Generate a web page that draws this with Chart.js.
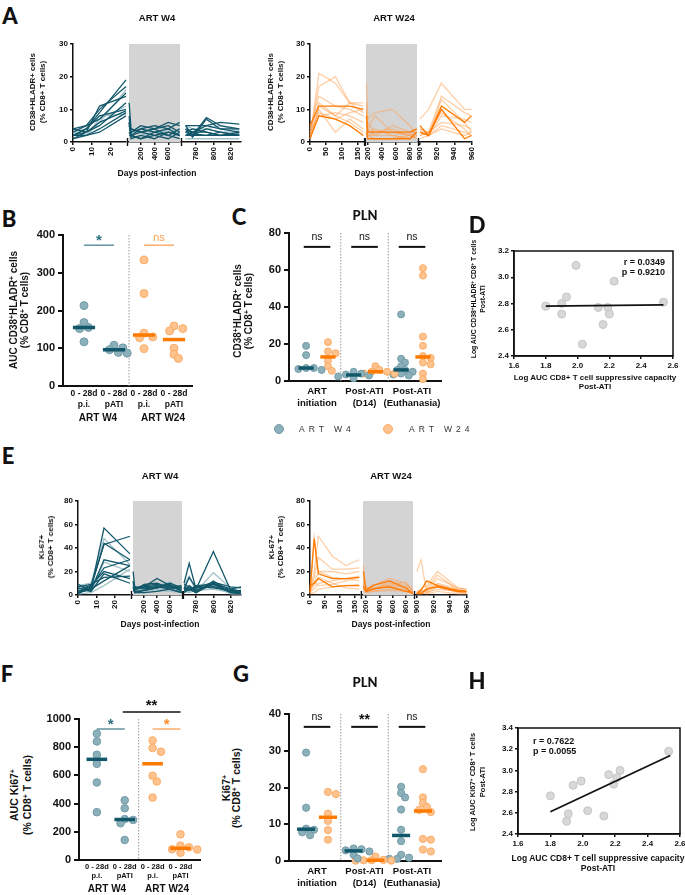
<!DOCTYPE html>
<html>
<head>
<meta charset="utf-8">
<script src="https://cdn.jsdelivr.net/npm/chart.js@4.4.1/dist/chart.umd.min.js"></script>
<style>
body { margin: 0; width: 685px; height: 895px; position: relative; overflow: hidden; background: #fff; font-family: 'Liberation Sans', Arial, sans-serif; color: #111; }
canvas { position: absolute; }
.t { position: absolute; transform: translate(-50%, -50%); text-align: center; white-space: nowrap; font-weight: bold; }
.r { transform: translate(-50%, -50%) rotate(-90deg); }
.let { font-family: Lato; font-weight: 900; font-size: 22px; }
sup { font-size: 0.68em; line-height: 0; vertical-align: 0.45em; }
.leg { position: absolute; font-size: 8.5px; letter-spacing: 4px; color: #333; white-space: nowrap; transform: translateY(-50%); }
.dot { position: absolute; width: 8px; height: 8px; border-radius: 50%; transform: translate(-50%, -50%); }
</style>
</head>
<body>
<script>
// ---- A : CD38+HLADR+ kinetics, ART W4 ----
var A_YTICKS = [0, 10, 20, 30];
var A4_D1 = [0, 7, 14, 28];
var A4_S1 = [[2,4,9,19],[3,5,10,17],[1,2,6,16],[4,5,7,15],[2,3,11,14],[1,3,5,12],[3,2,7,11],[2,4,8,10],[4,3,6,9.5],[1,2,4,9],[3,4,8,8.5],[2,2,3,8]];
var A4_D2 = [32, 60, 200, 400, 600, 765];
var A4_S2 = [[12,4,3,4,5,3],[8,2,4,5,4,2],[7,1,2,3,2,4],[5,3,5,4,6,5],[6,2,1,2,3,2],[4,4,3,2,1,3],[3,1,2,5,3,2],[5,3,4,3,4,6],[2,2,3,4,2,1],[6,1,2,1,3,2],[4,3,5,2,4,3],[3,2,1,3,2,4]];
var A4_D3 = [768, 776, 792, 808, 830];
var A4_S3 = [[5,2,7.5,5,4],[4,1.5,7,4,3],[3,3,4,3,3],[5,5,5,6,5.5],[2,2,2,3,2],[3,4,3,2,3],[1,1,1,1,1],[4,3,5,4,4],[2,3,3,2,2.5],[3,2,4,3,2],[5,4,4,5,3.5],[2,2.5,2,2,2]];
var A4_TONE = [1,1,0,1,1,1,0,1,1,1,0,1];
// ---- A : ART W24 ----
var A24_D1 = [0, 28, 80, 125, 168];
var A24_S1 = [[1,21,18,12,12],[2,17,20,12,9],[3,12,8,12,11],[1,10,3,7,4],[2,8,9,8,6],[4,14,11,10,8],[1,11,8,6,3],[3,9,7,9,10],[5,11,11,11,10],[1,8,7,5,2]];
var A24_D2 = [180, 200, 300, 550, 800, 895];
var A24_S2 = [[18,7,9,10,5,2],[12,4,8,3,2,4],[9,6,3,4,2,1],[6,2,2,5,3,3],[8,3,4,2,1,2],[10,2,1,1,2,3],[4,2,3,3,2,1],[5,4,2,2,1,2],[8,3,3,3,3,4],[3,1,1,1,1,3]];
var A24_D3 = [900, 910, 925, 952, 960];
var A24_S3 = [[7,10,18,10,10],[4,3,14,9,8],[3,2,13,6,3],[2,3,9,4,2],[3,2,5,3,2],[2,3,6,5,4],[1,2,4,2,3],[4,2,8,7,6],[3,2,11,6,8],[5,2,10,1,2]];
var A24_TONE = [0,0,0,0,0,0,0,0,1,1];
// x tick labels of the broken axes
var XT4 = [[0, 10, 20], [200, 400, 600], [780, 800, 820]];
var XT24 = [[0, 50, 100, 150], [200, 400, 600, 800], [900, 920, 940, 960]];

// ---- E : Ki-67 kinetics ----
var E_YTICKS = [0, 20, 40, 60, 80];
var E4_D1 = [0, 7, 14, 28];
var E4_S1 = [[2,5,57,35],[8,10,48,26],[5,8,43,50],[3,6,44,30],[9,4,30,25],[1,7,23,30],[4,3,28,20],[2,5,12,25],[6,3,18,10],[7,9,15,16],[1,2,8,22],[3,8,20,14]];
var E4_D2 = [32, 60, 200, 400, 600, 780];
var E4_S2 = [[20,5,7,14,8,3],[10,3,6,8,11,5],[8,6,8,9,7,8],[12,2,4,6,9,4],[6,7,5,7,5,2],[5,4,9,10,6,7],[9,3,3,5,4,3],[4,5,6,7,10,6],[7,2,2,3,5,2],[3,6,7,8,6,5],[11,4,5,4,3,2],[6,3,4,6,8,6]];
var E4_D3 = [766, 772, 780, 800, 820, 832];
var E4_S3 = [[10,27,5,37,4,2],[8,16,3,19,6,3],[5,15,6,11,7,6],[3,8,4,10,2,1],[6,4,8,9,5,7],[7,6,2,12,3,2],[4,3,5,8,1,1],[2,5,7,6,4,3],[9,7,3,9,2,2],[5,4,6,7,3,4],[3,2,4,5,2,1],[6,5,2,10,5,3]];
var E4_TONE = [1,0,1,1,1,1,0,1,1,1,0,1];
var E24_D1 = [0, 14, 28, 75, 120, 165];
var E24_S1 = [[5,49,20,15,14,16],[1,20,50,33,25,30],[8,15,32,22,22,23],[2,10,20,20,18,20],[3,5,10,12,14,12],[1,2,5,7,8,9],[6,8,15,10,6,5],[4,12,8,9,12,15],[2,48,18,14,14,15],[8,10,14,7,8,8]];
var E24_D2 = [160, 200, 300, 550, 800, 900];
var E24_S2 = [[25,5,8,14,10,4],[14,6,4,12,8,6],[10,3,5,9,11,3],[8,2,6,7,5,2],[6,4,3,5,4,1],[12,7,5,10,6,2],[5,2,3,4,3,1],[9,5,6,8,7,3],[20,4,8,12,6,1],[7,3,5,7,3,2]];
var E24_D3 = [900, 905, 912, 925, 950, 960];
var E24_S3 = [[20,30,2,5,3,2],[3,5,8,20,6,5],[1,2,6,17,4,4],[2,4,3,10,5,3],[1,1,2,7,2,2],[2,3,4,14,6,5],[1,2,1,3,1,1],[3,2,5,9,3,2],[1,4,12,8,4,3],[2,1,5,7,3,3]];
var E24_TONE = [0,0,0,0,0,0,0,0,1,1];

// ---- B : AUC CD38+HLADR+ ----
var B_YTICKS = [0, 100, 200, 300, 400];
var B_CATS = [['0 - 28d', 'p.i.'], ['0 - 28d', 'pATI'], ['0 - 28d', 'p.i.'], ['0 - 28d', 'pATI']];
var B_W4_PI = [213, 168, 155, 152, 117];
var B_W4_PATI = [108, 101, 96, 89, 87];
var B_W24_PI = [334, 245, 140, 130, 128, 99];
var B_W24_PATI = [159, 152, 146, 100, 84, 73];
var B_SIG = ['*', 'ns'];

// ---- C : PLN CD38+HLADR+ ----
var C_YTICKS = [0, 20, 40, 60, 80];
var PLN_GROUPS = [['ART', 'initiation'], ['Post-ATI', '(D14)'], ['Post-ATI', '(Euthanasia)']];
var C_W4 = [[19, 14, 7, 7, 6.5, 6], [5, 4, 3.5, 3, 2.5, 1.5], [36, 12, 10, 8, 6, 6, 5, 4, 3.5, 3]];
var C_W24 = [[21, 16, 15, 11, 8, 5.5], [8, 6, 5, 5, 4, 4], [61, 57, 24, 19, 13.5, 12.5, 10, 9, 4, 1]];
var C_SIG = ['ns', 'ns', 'ns'];

// ---- D / H : correlations ----
var CORR_XTICKS = [1.6, 1.8, 2.0, 2.2, 2.4, 2.6];
var D_YTICKS = [2.4, 2.6, 2.8, 3.0, 3.2];
var D_X = [1.80, 1.90, 1.90, 1.93, 1.99, 2.03, 2.13, 2.16, 2.19, 2.20, 2.23, 2.54];
var D_Y = [2.78, 2.80, 2.72, 2.85, 3.09, 2.49, 2.77, 2.64, 2.77, 2.72, 2.97, 2.81];
var D_FIT_X = [1.80, 2.54];
var D_FIT_Y = [2.78, 2.79];
var H_YTICKS = [2.4, 2.6, 2.8, 3.0, 3.2, 3.4];
var H_X = [1.80, 1.90, 1.91, 1.94, 1.99, 2.03, 2.13, 2.16, 2.19, 2.21, 2.23, 2.53];
var H_Y = [2.76, 2.52, 2.59, 2.86, 2.90, 2.62, 2.57, 2.96, 2.87, 2.93, 3.00, 3.18];
var H_FIT_X = [1.80, 2.54];
var H_FIT_Y = [2.61, 3.14];

// ---- F : AUC Ki67+ ----
var F_YTICKS = [0, 200, 400, 600, 800, 1000];
var F_W4_PI = [896, 841, 746, 682, 550, 339];
var F_W4_PATI = [424, 367, 290, 284, 261, 142];
var F_W24_PI = [848, 794, 768, 597, 557, 443];
var F_W24_PATI = [182, 102, 90, 76, 74, 52];
var F_SIG = ['*', '*', '**'];

// ---- G : PLN Ki67+ ----
var G_YTICKS = [0, 10, 20, 30, 40];
var G_W4 = [[29.5, 14.5, 8.8, 8.5, 7.8, 7.0], [3.4, 3.2, 2.9, 2.6, 1.7, 0.7], [20.2, 18.5, 17.3, 14.0, 8.5, 5.4, 1.7, 0.9, 0.6, 0.6]];
var G_W24 = [[18.8, 18.2, 12.9, 10.9, 8.4, 5.8], [1.2, 0.3, 0.2, 0.2, 0.1, 0.1], [25, 17.3, 15.8, 14.7, 13.9, 13.3, 6.0, 5.8, 3.1, 2.6]];
var G_SIG = ['ns', '**', 'ns'];

var TEAL = '#12586a', TEAL_LT = '#a3c2ca', ORG = '#ff7a00', ORG_LT = 'rgba(255,160,80,0.5)';
var DOT_T = '#8cb0ba', DOT_T_E = '#739ba7', DOT_O = '#fec38e', DOT_O_E = '#fbac66';

Chart.defaults.font.family = "'Liberation Sans', Arial, sans-serif";
Chart.defaults.font.weight = 'bold';
Chart.defaults.color = '#111';
Chart.defaults.animation = false;
Chart.defaults.events = [];
Chart.defaults.plugins.legend.display = false;
Chart.defaults.plugins.tooltip.enabled = false;

function mkCanvas(box, pad) {
  var c = document.createElement('canvas');
  var w = box[2] - box[0] + pad[0] + pad[2], h = box[3] - box[1] + pad[1] + pad[3];
  c.width = w; c.height = h;
  c.style.left = (box[0] - pad[0]) + 'px'; c.style.top = (box[1] - pad[1]) + 'px';
  c.style.width = w + 'px'; c.style.height = h + 'px';
  document.body.appendChild(c);
  return c;
}

function axis(min, max, ticks, o) {
  return {
    type: 'linear', min: min, max: max, display: o.display !== false,
    afterBuildTicks: function (s) { s.ticks = ticks.map(function (v) { return { value: v }; }); },
    afterFit: o.display === false ? undefined : o.fit,
    border: { display: true, color: '#111', width: o.bw || 1.5 },
    grid: { display: true, drawOnChartArea: false, drawTicks: o.tl > 0, tickLength: o.tl || 0, color: '#111', lineWidth: o.bw || 1.5 },
    ticks: { font: { size: o.fs, weight: 'bold' }, color: '#111', padding: o.pad == null ? 2 : o.pad, minRotation: o.rot || 0, maxRotation: o.rot || 0, autoSkip: false, callback: o.cb || function (v) { return v; } }
  };
}

// one piece of a broken time axis
function segment(box, xr, xt, yr, yt, days, series, tone, dark, light, o) {
  var pad = [o.y ? 32 : 8, 8, 6, 30];
  var c = mkCanvas(box, pad);
  var ds = series.map(function (vals, i) {
    return { data: vals.map(function (v, j) { return { x: days[j], y: v }; }), showLine: true, borderColor: tone[i] ? dark : light, borderWidth: 1.3, pointRadius: 0, order: tone[i] ? 0 : 1, clip: false };
  });
  var deco = {
    id: 'deco',
    beforeDatasetsDraw: function (ch) {
      if (!o.shade) return;
      var a = ch.chartArea, ctx = ch.ctx;
      ctx.save(); ctx.fillStyle = '#d4d4d4'; ctx.fillRect(a.left, a.top, a.right - a.left, a.bottom - a.top); ctx.restore();
    },
    afterDraw: function (ch) {
      var a = ch.chartArea, ctx = ch.ctx;
      ctx.save(); ctx.strokeStyle = '#111'; ctx.lineWidth = 1.2;
      var xs = [];
      if (o.brkL) xs.push(a.left - 1.5);
      if (o.brkR) xs.push(a.right + 1.5);
      xs.forEach(function (x) { ctx.beginPath(); ctx.moveTo(x, a.bottom - 4); ctx.lineTo(x, a.bottom + 4); ctx.stroke(); });
      ctx.restore();
    }
  };
  new Chart(c, {
    type: 'scatter', data: { datasets: ds },
    options: {
      responsive: false,
      layout: { padding: { left: o.y ? 4 : 8, top: 8, right: 6, bottom: 0 } },
      scales: {
        x: axis(xr[0], xr[1], xt, { fs: 8, tl: 3, rot: 90, fit: function (s) { s.height = 30; } }),
        y: axis(yr[0], yr[1], yt, { display: !!o.y, fs: 8, tl: 3, fit: function (s) { s.width = 28; } })
      }
    },
    plugins: [deco]
  });
}

function median(a) {
  var s = a.slice().sort(function (p, q) { return p - q; }), n = s.length;
  return n % 2 ? s[(n - 1) / 2] : (s[n / 2 - 1] + s[n / 2]) / 2;
}

// simple beeswarm so overlapping dots sit side by side (partial overlap allowed)
function swarm(vals, cx, kx, ky, r) {
  var placed = [], gap = r * 1.5, step = r * 1.1;
  return vals.map(function (v) {
    for (var k = 0; k < 30; k++) {
      var off = (k % 2 ? 1 : -1) * Math.ceil(k / 2) * step, py = v * ky;
      var ok = placed.every(function (p) { return Math.pow(p[0] - off, 2) + Math.pow(p[1] - py, 2) >= gap * gap; });
      if (ok) { placed.push([off, py]); return { x: cx + off / kx, y: v }; }
    }
    return { x: cx, y: v };
  });
}

function marksPlugin(items) {
  return {
    id: 'marks',
    beforeDatasetsDraw: function (ch) {
      var ctx = ch.ctx, a = ch.chartArea, x = ch.scales.x;
      ctx.save(); ctx.strokeStyle = '#999'; ctx.lineWidth = 1; ctx.setLineDash([1.5, 1.5]);
      items.filter(function (m) { return m.t === 'sep'; }).forEach(function (m) {
        var px = x.getPixelForValue(m.x); ctx.beginPath(); ctx.moveTo(px, a.top); ctx.lineTo(px, a.bottom); ctx.stroke();
      });
      ctx.restore();
    },
    afterDatasetsDraw: function (ch) {
      var ctx = ch.ctx, x = ch.scales.x, y = ch.scales.y;
      ctx.save();
      items.forEach(function (m) {
        if (m.t === 'bar') {
          ctx.strokeStyle = m.c; ctx.lineWidth = m.w || 1.5; ctx.beginPath();
          ctx.moveTo(x.getPixelForValue(m.x1), y.getPixelForValue(m.y)); ctx.lineTo(x.getPixelForValue(m.x2), y.getPixelForValue(m.y)); ctx.stroke();
        } else if (m.t === 'txt') {
          ctx.fillStyle = m.c; ctx.font = m.f; ctx.textAlign = 'center'; ctx.textBaseline = 'middle';
          ctx.fillText(m.s, x.getPixelForValue(m.x), y.getPixelForValue(m.y));
        }
      });
      ctx.restore();
    }
  };
}

function dotPanel(box, padT, xr, yr, yt, xt, xl, cols, marks, xpad, xfs, r) {
  var pad = [38, padT, 8, 34];
  var c = mkCanvas(box, pad);
  var kx = (box[2] - box[0]) / (xr[1] - xr[0]), ky = (box[3] - box[1]) / (yr[1] - yr[0]);
  var ds = [];
  cols.forEach(function (col) {
    ds.push({ data: swarm(col.vals, col.x, kx, ky, r), backgroundColor: col.fill, borderColor: col.edge, borderWidth: 1, pointRadius: r, order: 1, clip: false });
    var m = median(col.vals);
    ds.push({ data: [{ x: col.x - col.half, y: m }, { x: col.x + col.half, y: m }], showLine: true, borderColor: col.line, borderWidth: 3.5, pointRadius: 0, order: 0, clip: false, borderCapStyle: 'butt' });
  });
  new Chart(c, {
    type: 'scatter', data: { datasets: ds },
    options: {
      responsive: false,
      layout: { padding: { left: 4, top: padT, right: 8, bottom: 0 } },
      scales: {
        x: axis(xr[0], xr[1], xt, { fs: xfs, tl: 0, bw: 2, pad: xpad, cb: function (v, i) { return xl[i]; }, fit: function (s) { s.height = 34; } }),
        y: axis(yr[0], yr[1], yt, { fs: 11, tl: 5, bw: 2, pad: 3, fit: function (s) { s.width = 34; } })
      }
    },
    plugins: [marksPlugin(marks)]
  });
}

function corrPanel(box, yr, yt, xs, ys, fx, fy) {
  var c = mkCanvas(box, [32, 8, 12, 22]);
  new Chart(c, {
    type: 'scatter',
    data: { datasets: [
      { data: fx.map(function (v, i) { return { x: v, y: fy[i] }; }), showLine: true, borderColor: '#111', borderWidth: 1.8, pointRadius: 0, order: 0 },
      { data: xs.map(function (v, i) { return { x: v, y: ys[i] }; }), backgroundColor: '#d8d8d8', borderColor: '#c4c4c4', borderWidth: 1, pointRadius: 4, order: 1, clip: false }
    ] },
    options: {
      responsive: false,
      layout: { padding: { left: 4, top: 8, right: 12, bottom: 0 } },
      scales: {
        x: axis(1.6, 2.6, CORR_XTICKS, { fs: 8, tl: 3, cb: function (v) { return v.toFixed(1); }, fit: function (s) { s.height = 22; } }),
        y: axis(yr[0], yr[1], yt, { fs: 8, tl: 3, cb: function (v) { return v.toFixed(1); }, fit: function (s) { s.width = 28; } })
      }
    },
    plugins: [{ id: 'frame', afterDraw: function (ch) {
      var a = ch.chartArea, ctx = ch.ctx;
      ctx.save(); ctx.strokeStyle = '#111'; ctx.lineWidth = 1.5; ctx.strokeRect(a.left, a.top, a.right - a.left, a.bottom - a.top); ctx.restore();
    } }]
  });
}

function txt(html, x, y, css, cls) {
  var d = document.createElement('div');
  d.className = 't' + (cls ? ' ' + cls : '');
  d.innerHTML = html;
  d.style.cssText = 'left:' + x + 'px;top:' + y + 'px;' + (css || '');
  document.body.appendChild(d);
}

// ---------- A ----------
segment([73, 44, 126, 142], [0, 28], XT4[0], [0, 30], A_YTICKS, A4_D1, A4_S1, A4_TONE, TEAL, TEAL_LT, { y: true, brkR: true });
segment([129, 44, 180, 142], [30, 770], XT4[1], [0, 30], A_YTICKS, A4_D2, A4_S2, A4_TONE, TEAL, TEAL_LT, { shade: true, brkL: true, brkR: true });
segment([183, 44, 241, 142], [765, 832], XT4[2], [0, 30], A_YTICKS, A4_D3, A4_S3, A4_TONE, TEAL, TEAL_LT, { brkL: true });
segment([310, 44, 364, 142], [0, 170], XT24[0], [0, 30], A_YTICKS, A24_D1, A24_S1, A24_TONE, ORG, ORG_LT, { y: true, brkR: true });
segment([366, 44, 417, 142], [175, 900], XT24[1], [0, 30], A_YTICKS, A24_D2, A24_S2, A24_TONE, ORG, ORG_LT, { shade: true, brkL: true, brkR: true });
segment([420, 44, 477, 142], [900, 960], XT24[2], [0, 30], A_YTICKS, A24_D3, A24_S3, A24_TONE, ORG, ORG_LT, { brkL: true });

// ---------- E ----------
segment([78, 501, 130, 595], [0, 28], XT4[0], [0, 80], E_YTICKS, E4_D1, E4_S1, E4_TONE, TEAL, TEAL_LT, { y: true, brkR: true });
segment([133, 501, 182, 595], [30, 785], XT4[1], [0, 80], E_YTICKS, E4_D2, E4_S2, E4_TONE, TEAL, TEAL_LT, { shade: true, brkL: true, brkR: true });
segment([184, 501, 241, 595], [766, 832], XT4[2], [0, 80], E_YTICKS, E4_D3, E4_S3, E4_TONE, TEAL, TEAL_LT, { brkL: true });
segment([310, 501, 361, 595], [0, 167], XT24[0], [0, 80], E_YTICKS, E24_D1, E24_S1, E24_TONE, ORG, ORG_LT, { y: true, brkR: true });
segment([363, 501, 413, 595], [155, 905], XT24[1], [0, 80], E_YTICKS, E24_D2, E24_S2, E24_TONE, ORG, ORG_LT, { shade: true, brkL: true, brkR: true });
segment([416, 501, 472, 595], [899, 960], XT24[2], [0, 80], E_YTICKS, E24_D3, E24_S3, E24_TONE, ORG, ORG_LT, { brkL: true });

// ---------- B ----------
var teal = { fill: DOT_T, edge: DOT_T_E, line: TEAL };
var orng = { fill: DOT_O, edge: DOT_O_E, line: ORG };
function col(x, vals, c, half) { return { x: x, vals: vals, fill: c.fill, edge: c.edge, line: c.line, half: half }; }

dotPanel([63, 235, 192, 386], 12, [0.3, 4.6], [0, 400], B_YTICKS, [1, 2, 3, 4], B_CATS,
  [col(1, B_W4_PI, teal, 0.37), col(2, B_W4_PATI, teal, 0.37), col(3, B_W24_PI, orng, 0.37), col(4, B_W24_PATI, orng, 0.37)],
  [{ t: 'sep', x: 2.5 },
   { t: 'bar', x1: 1, x2: 2, y: 373, c: '#4a8291', w: 1.3 }, { t: 'txt', s: B_SIG[0], x: 1.5, y: 385, c: '#2f6f80', f: 'bold 15px Liberation Sans' },
   { t: 'bar', x1: 3, x2: 4, y: 373, c: '#fba055', w: 1.3 }, { t: 'txt', s: B_SIG[1], x: 3.5, y: 393, c: '#fba055', f: '11px Liberation Sans' }], 3, 8.5, 4);

// ---------- C ----------
var cCols = [], cMarks = [{ t: 'sep', x: 1.5 }, { t: 'sep', x: 2.5 }];
PLN_GROUPS.forEach(function (g, i) {
  cCols.push(col(i + 1 - 0.23, C_W4[i], teal, 0.16));
  cCols.push(col(i + 1 + 0.23, C_W24[i], orng, 0.16));
  cMarks.push({ t: 'bar', x1: i + 1 - 0.28, x2: i + 1 + 0.28, y: 72.5, c: '#111', w: 2 });
  cMarks.push({ t: 'txt', s: C_SIG[i], x: i + 1, y: 78, c: '#111', f: '10.5px Liberation Sans' });
});
dotPanel([289, 233, 441, 381], 12, [0.41, 3.61], [0, 80], C_YTICKS, [1, 2, 3], PLN_GROUPS, cCols, cMarks, 5, 9.5, 3.5);

// ---------- D ----------
corrPanel([514, 251, 673, 356], [2.4, 3.2], D_YTICKS, D_X, D_Y, D_FIT_X, D_FIT_Y);

// ---------- F ----------
dotPanel([79, 719, 200, 860], 30, [0.36, 4.7], [0, 1000], F_YTICKS, [1, 2, 3, 4], B_CATS,
  [col(1, F_W4_PI, teal, 0.37), col(2, F_W4_PATI, teal, 0.37), col(3, F_W24_PI, orng, 0.37), col(4, F_W24_PATI, orng, 0.37)],
  [{ t: 'sep', x: 2.5 },
   { t: 'bar', x1: 1, x2: 2, y: 929, c: '#4a8291', w: 1.3 }, { t: 'txt', s: F_SIG[0], x: 1.5, y: 960, c: '#2f6f80', f: 'bold 15px Liberation Sans' },
   { t: 'bar', x1: 3, x2: 4, y: 929, c: '#fba055', w: 1.3 }, { t: 'txt', s: F_SIG[1], x: 3.5, y: 960, c: '#ff8a1e', f: 'bold 15px Liberation Sans' },
   { t: 'bar', x1: 1.93, x2: 4, y: 1050, c: '#111', w: 1.6 }, { t: 'txt', s: F_SIG[2], x: 2.96, y: 1090, c: '#111', f: 'bold 15px Liberation Sans' }], 2, 7.5, 3.8);

// ---------- G ----------
var gCols = [], gMarks = [{ t: 'sep', x: 1.5 }, { t: 'sep', x: 2.5 }];
PLN_GROUPS.forEach(function (g, i) {
  gCols.push(col(i + 1 - 0.23, G_W4[i], teal, 0.19));
  gCols.push(col(i + 1 + 0.23, G_W24[i], orng, 0.19));
  gMarks.push({ t: 'bar', x1: i + 1 - 0.28, x2: i + 1 + 0.28, y: 36.5, c: '#111', w: 2 });
  gMarks.push({ t: 'txt', s: G_SIG[i], x: i + 1, y: G_SIG[i] === '**' ? 38.4 : 39.2, c: '#111', f: G_SIG[i] === '**' ? 'bold 14px Liberation Sans' : '10.5px Liberation Sans' });
});
dotPanel([289, 714, 441, 861], 12, [0.41, 3.61], [0, 40], G_YTICKS, [1, 2, 3], PLN_GROUPS, gCols, gMarks, 5, 9.5, 3.6);

// ---------- H ----------
corrPanel([518, 728, 680, 834], [2.4, 3.4], H_YTICKS, H_X, H_Y, H_FIT_X, H_FIT_Y);

// ---------- text ----------
var P = '<sup>+</sup>';
[['A', 10, 15], ['B', 9, 218], ['C', 239, 216], ['D', 477, 224], ['E', 8, 455], ['F', 7, 673], ['G', 241, 673], ['H', 477, 680]].forEach(function (l) {
  txt(l[0], l[1], l[2], '', 'let');
});
txt('ART W4', 157, 17, 'font-size:9.5px;');
txt('ART W24', 394, 17, 'font-size:9.5px;');
txt('ART W4', 160, 475, 'font-size:9.5px;');
txt('ART W24', 391, 475, 'font-size:9.5px;');
txt('CD38+HLADR+ cells<br>(% CD8+ T cells)', 38, 92, 'font-size:8px;line-height:10px;', 'r');
txt('CD38+HLADR+ cells<br>(% CD8+ T cells)', 276, 92, 'font-size:8px;line-height:10px;', 'r');
txt('Days post-infection', 157, 173, 'font-size:8.5px;');
txt('Days post-infection', 394, 173, 'font-size:8.5px;');
txt('Ki-67+<br>(% CD8+ T cells)', 46, 547, 'font-size:8px;line-height:9px;', 'r');
txt('Ki-67+<br>(% CD8+ T cells)', 276, 547, 'font-size:8px;line-height:9px;', 'r');
txt('Days post-infection', 160, 624, 'font-size:8.5px;');
txt('Days post-infection', 391, 624, 'font-size:8.5px;');

txt('AUC CD38' + P + 'HLADR' + P + ' cells<br>(% CD8' + P + ' T cells)', 19, 310, 'font-size:10px;line-height:11px;', 'r');
txt('ART W4', 98, 417, 'font-size:10px;');
txt('ART W24', 163, 417, 'font-size:10px;');
txt('PLN', 365, 215, 'font-family:Lato;font-weight:900;font-size:13px;');
txt('CD38' + P + 'HLADR' + P + ' cells<br>(% CD8' + P + ' T cells)', 243, 311, 'font-size:10px;line-height:11px;', 'r');

txt('Log AUC CD38' + P + 'HLADR' + P + ' CD8' + P + ' T cells<br>Post-ATI', 478, 299, 'font-size:6.8px;line-height:9px;', 'r');
txt('Log AUC CD8+ T cell suppressive capacity<br>Post-ATI', 595, 382, 'font-size:8px;line-height:9px;');
txt('r = 0.0349<br>p = 0.9210', 665, 267, 'font-size:9px;line-height:10px;text-align:right;transform:translate(-100%,-50%);');

txt('AUC Ki67' + P + '<br>(% CD8' + P + ' T cells)', 21, 795, 'font-size:10.5px;line-height:13px;', 'r');
txt('ART W4', 107, 888, 'font-size:10px;');
txt('ART W24', 167, 888, 'font-size:10px;');
txt('PLN', 365, 682, 'font-family:Lato;font-weight:900;font-size:13px;');
txt('Ki67' + P + '<br>(% CD8' + P + ' T cells)', 231, 788, 'font-size:10.5px;line-height:10px;', 'r');

txt('Log AUC Ki67' + P + ' CD8' + P + ' T cells<br>Post-ATI', 478, 782, 'font-size:7.5px;line-height:10px;', 'r');
txt('Log AUC CD8+ T cell suppressive capacity<br>Post-ATI', 598, 863, 'font-size:8.5px;line-height:10px;');
txt('r = 0.7622<br>p = 0.0055', 533, 746, 'font-size:9px;line-height:10px;text-align:left;transform:translate(0,-50%);');

// legend under C
[[279, DOT_T, DOT_T_E, 'ART W4', 299], [388, DOT_O, DOT_O_E, 'ART W24', 409]].forEach(function (g) {
  var d = document.createElement('div');
  d.className = 'dot';
  d.style.cssText = 'left:' + g[0] + 'px;top:429px;background:' + g[1] + ';border:1px solid ' + g[2] + ';';
  document.body.appendChild(d);
  var s = document.createElement('div');
  s.className = 'leg';
  s.textContent = g[3];
  s.style.left = g[4] + 'px'; s.style.top = '429px';
  document.body.appendChild(s);
});
</script>
</body>
</html>
